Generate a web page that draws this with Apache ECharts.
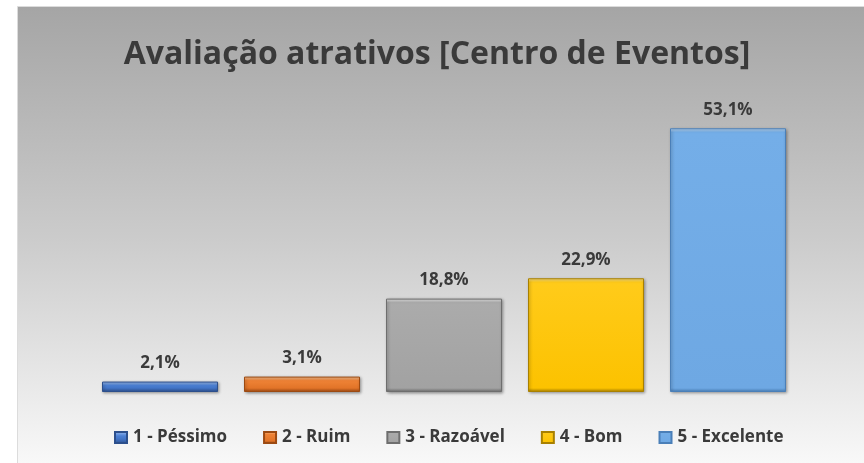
<!DOCTYPE html>
<html>
<head>
<meta charset="utf-8">
<script src="https://cdn.jsdelivr.net/npm/echarts@6/dist/echarts.min.js"></script>
<style>
  html, body { margin: 0; padding: 0; background: #ffffff; }
  #chart { width: 864px; height: 463px; }
</style>
</head>
<body>
<div id="chart"></div>
<script>
// Survey answers and their share of responses (%)
const categories = ['1 - Péssimo', '2 - Ruim', '3 - Razoável', '4 - Bom', '5 - Excelente'];
const values = [2.1, 3.1, 18.8, 22.9, 53.1];
const titleText = 'Avaliação atrativos [Centro de Eventos]';

// Bevelled look per series: [highlight, base, shade, edge]
const palette = [
  ['#a3c2f2', '#4b80d4', '#4274c6', '#2c4f8c'],
  ['#fcc79a', '#ef8336', '#e27428', '#9c4a12'],
  ['#f6f6f6', '#ababab', '#a2a2a2', '#6e6e6e'],
  ['#ffe488', '#ffcb1a', '#fcc200', '#a88000'],
  ['#c2ddf8', '#74aee8', '#6ea8e3', '#4a7fb8']
];

// Plot geometry used to keep the bevel bands a constant pixel size
const GRID_TOP = 94, GRID_BOTTOM = 71, Y_MAX = 60;
const plotHeight = 463 - GRID_TOP - GRID_BOTTOM;
const BEVEL = 4;

function barFill(p, v) {
  const h = Math.max(v * plotHeight / Y_MAX, 2 * BEVEL + 1);
  const b = BEVEL / h;
  return new echarts.graphic.LinearGradient(0, 0, 0, 1, [
    { offset: 0, color: p[0] },
    { offset: b, color: p[1] },
    { offset: 1 - b, color: p[2] },
    { offset: 1, color: p[3] }
  ]);
}

const fmt = v => v.toFixed(1).replace('.', ',') + '%';

const chart = echarts.init(document.getElementById('chart'));

const series = categories.map((name, i) => ({
  name: name,
  type: 'bar',
  stack: 'all',
  barWidth: 116,
  data: categories.map((c, j) => (j === i ? values[i] : '-')),
  itemStyle: {
    color: barFill(palette[i], values[i]),
    borderColor: palette[i][3],
    borderWidth: 1,
    shadowColor: 'rgba(0,0,0,0.35)',
    shadowBlur: 3,
    shadowOffsetX: 1,
    shadowOffsetY: 1
  },
  label: {
    show: true,
    position: 'top',
    distance: 10,
    formatter: p => fmt(p.value),
    fontFamily: 'Open Sans',
    fontWeight: 'bold',
    fontSize: 17,
    color: '#3a3a3a'
  }
}));

chart.setOption({
  animation: false,
  backgroundColor: '#ffffff',
  graphic: [{
    type: 'rect',
    z: -10,
    silent: true,
    shape: { x: 17.5, y: 6.5, width: 850, height: 460 },
    style: {
      fill: new echarts.graphic.LinearGradient(0, 0, 0, 1, [
        { offset: 0, color: '#a5a5a5' },
        { offset: 0.5, color: '#cbcbcb' },
        { offset: 1, color: '#f9f9f9' }
      ]),
      stroke: '#dcdcdc',
      lineWidth: 1
    }
  }],
  title: {
    text: titleText,
    left: 432,
    textAlign: 'center',
    top: 34,
    textStyle: {
      fontFamily: 'Open Sans',
      fontWeight: 'bold',
      fontSize: 32,
      color: '#3a3a3a'
    }
  },
  legend: {
    top: 424,
    left: 109,
    itemWidth: 12,
    itemHeight: 11,
    itemGap: 36,
    icon: 'rect',
    textStyle: {
      fontFamily: 'Open Sans',
      fontWeight: 'bold',
      fontSize: 17,
      color: '#3a3a3a',
      padding: [0, 0, 0, 1]
    },
    data: categories
  },
  grid: { left: 89, width: 710, top: GRID_TOP, bottom: GRID_BOTTOM },
  xAxis: {
    type: 'category',
    data: categories,
    show: false
  },
  yAxis: {
    type: 'value',
    min: 0,
    max: Y_MAX,
    show: false
  },
  series: series
});
</script>
</body>
</html>
